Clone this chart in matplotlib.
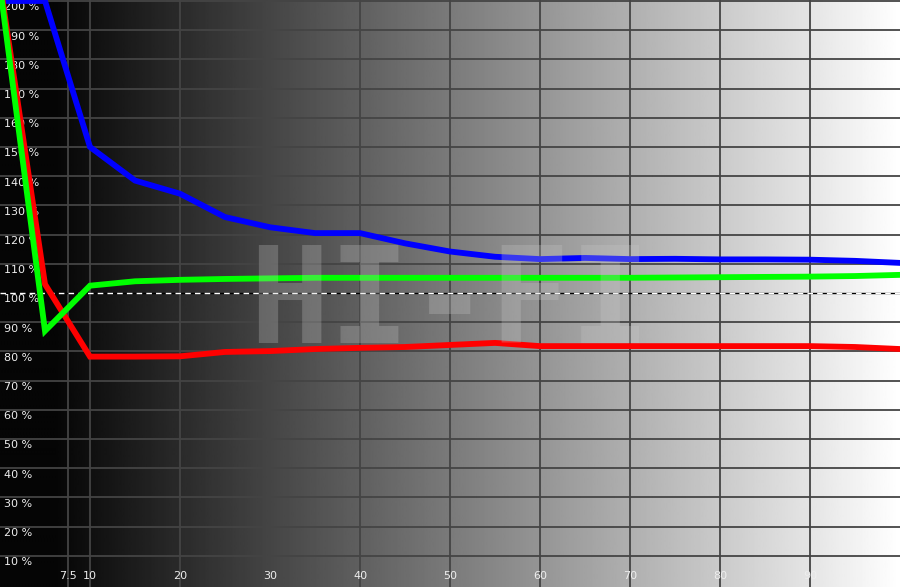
import numpy as np
import matplotlib
matplotlib.use("Agg")
from matplotlib import pyplot as plt

# grayscale stimulus (%) and measured RGB balance (%)
levels = [0, 5, 10, 15, 20, 25, 30, 35, 40, 45, 50, 55, 60, 65, 70, 75, 80, 85, 90, 95, 100]
red = [206, 103, 78.2, 78.2, 78.3, 79.8, 80.1, 80.8, 81.2, 81.5, 82.2, 82.9, 81.8, 81.8, 81.8,
       81.8, 81.8, 81.8, 81.8, 81.5, 80.8]
green = [205, 87, 102.5, 104.0, 104.5, 104.8, 105.0, 105.2, 105.2, 105.2, 105.2, 105.2, 105.2,
         105.2, 105.2, 105.3, 105.4, 105.5, 105.6, 105.8, 106.2]
blue = [200, 200, 150, 138.5, 134, 126, 122.5, 120.5, 120.5, 117, 114.2, 112.4, 111.6, 112.0,
        111.6, 111.7, 111.5, 111.5, 111.4, 111.0, 110.3]

x_ticks = [7.5, 10, 20, 30, 40, 50, 60, 70, 80, 90]
x_labels = ["7.5", "10", "20", "30", "40", "50", "60", "70", "80", "90"]
y_ticks = list(range(10, 201, 10))

fig = plt.figure(figsize=(9, 5.87), dpi=100)
ax = fig.add_axes([0, 0, 1, 1])
ax.set_xlim(0, 100)
ax.set_ylim(-0.7, 200.34)
ax.axis("off")

# black -> white background ramp
xs = np.linspace(0, 100, 600)
ramp = np.clip((xs - 4) / 96, 0.02, 1.0).reshape(1, -1)
ax.imshow(ramp, cmap="gray", vmin=0, vmax=1, aspect="auto",
          extent=[0, 100, -0.7, 200.34], zorder=0)

grid_kw = dict(color="#444444", lw=1.3, zorder=1)
for xv in x_ticks:
    ax.axvline(xv, **grid_kw)
for yv in y_ticks:
    if yv != 100:
        ax.axhline(yv, **grid_kw)

# 100 % reference: black/white dashes
ax.axhline(100, color="black", lw=1.0, zorder=2)
ax.axhline(100, color="white", lw=1.0, ls=(0, (4, 3)), zorder=2)

for yv in y_ticks:
    ax.text(0.5, yv - 2.2, f"{yv} %", color="#eeeeee", fontsize=8,
            ha="left", va="center", zorder=3)
for xv, lab in zip(x_ticks, x_labels):
    ax.text(xv, 2.9, lab, color="#eeeeee", fontsize=8,
            ha="center", va="center", zorder=3)

ax.plot(levels, blue, color="#0000ff", lw=4.2, zorder=4, solid_joinstyle="miter")
ax.plot(levels, red, color="#ff0000", lw=4.2, zorder=4, solid_joinstyle="miter")
ax.plot(levels, green, color="#00ff00", lw=4.2, zorder=5, solid_joinstyle="miter")

ax.text(50, 100.5, "HI-FI", color="#c8c8c8", alpha=0.28, fontsize=96,
        family="DejaVu Sans Mono", weight="bold", ha="center", va="center_baseline",
        zorder=6)

fig.savefig("out.png", dpi=100)
